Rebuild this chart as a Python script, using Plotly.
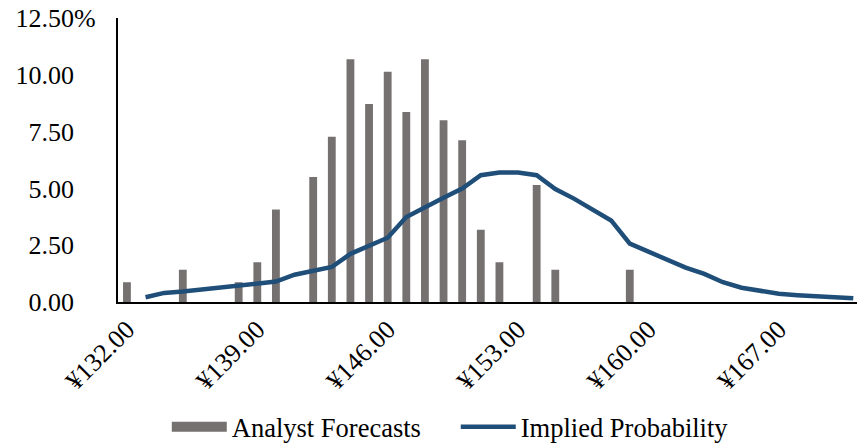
import plotly.graph_objects as go

prices = list(range(132, 172))
categories = ["¥%d.00" % p for p in prices]

analyst_vals = {132: 0.87, 135: 1.42, 138: 0.87, 139: 1.75, 140: 4.07, 142: 5.50,
                143: 7.27, 144: 10.68, 145: 8.71, 146: 10.13, 147: 8.36, 148: 10.68,
                149: 8.00, 150: 7.12, 151: 3.18, 152: 1.75, 154: 5.15, 155: 1.42, 159: 1.42}
analyst = [analyst_vals.get(p, 0) for p in prices]

implied = [None, 0.21, 0.40, 0.46, 0.54, 0.65, 0.73, 0.80, 0.90, 1.20, 1.39, 1.54,
           2.12, 2.46, 2.83, 3.74, 4.18, 4.59, 4.99, 5.58, 5.70, 5.70, 5.58, 4.97,
           4.55, 4.09, 3.59, 2.57, 2.20, 1.83, 1.51, 1.24, 0.87, 0.63, 0.51, 0.36,
           0.30, 0.26, 0.21, 0.17]

tick_labels = ["¥132.00", "¥139.00", "¥146.00", "¥153.00", "¥160.00", "¥167.00"]
y_ticks = [0, 2.5, 5, 7.5, 10, 12.5]
y_text = ["0.00", "2.50", "5.00", "7.50", "10.00", "12.50"]

FONT = "Liberation Serif"
FS = 26
BAR_COLOR = "#767171"
LINE_COLOR = "#1F4E79"

fig = go.Figure()
fig.add_trace(go.Bar(x=categories, y=analyst, name="Analyst Forecasts", showlegend=False,
                     legendgroup="af",
                     marker=dict(color=BAR_COLOR, line=dict(width=0)), width=0.42))
# legend swatch for the bars (wide rectangle like the original legend)
fig.add_trace(go.Scatter(x=[None], y=[None], name="Analyst Forecasts", mode="lines",
                         legendgroup="af", hoverinfo="skip",
                         line=dict(color=BAR_COLOR, width=13)))
fig.add_trace(go.Scatter(x=categories, y=implied, name="Implied Probability", mode="lines",
                         line=dict(color=LINE_COLOR, width=4.5, shape="linear"),
                         connectgaps=False))

fig.update_layout(
    width=857, height=445,
    margin=dict(l=118, r=0, t=18, b=143, autoexpand=False),
    plot_bgcolor="white", paper_bgcolor="white",
    font=dict(family=FONT, size=FS, color="black"),
    showlegend=True,
    legend=dict(orientation="h", x=0.066, xanchor="left", y=-0.44, yanchor="middle",
                font=dict(family=FONT, size=26.5, color="black"), itemwidth=55,
                entrywidth=219, entrywidthmode="pixels", traceorder="normal"),
    xaxis=dict(type="category", range=[-0.48, 39.2], tickmode="array",
               tickvals=tick_labels, ticktext=tick_labels, tickangle=-45,
               showline=True, linecolor="black", linewidth=2, showgrid=False,
               automargin=False, ticks="",
               tickfont=dict(family=FONT, size=26, color="black")),
    yaxis=dict(range=[0, 12.5], tickmode="array", tickvals=y_ticks, ticktext=y_text,
               showline=True, linecolor="black", linewidth=1.5, showgrid=False,
               automargin=False, zeroline=False, ticks="", ticklabelstandoff=37,
               tickfont=dict(family=FONT, size=FS, color="black")),
)

fig.add_annotation(xref="paper", yref="y", x=0, y=y_ticks[-1], xshift=-46,
                   text="%", showarrow=False, xanchor="left", yanchor="middle",
                   font=dict(family=FONT, size=FS, color="black"))

fig.write_html("out.html", config={"displayModeBar": False},
               post_script="document.body.style.margin='0px';")
